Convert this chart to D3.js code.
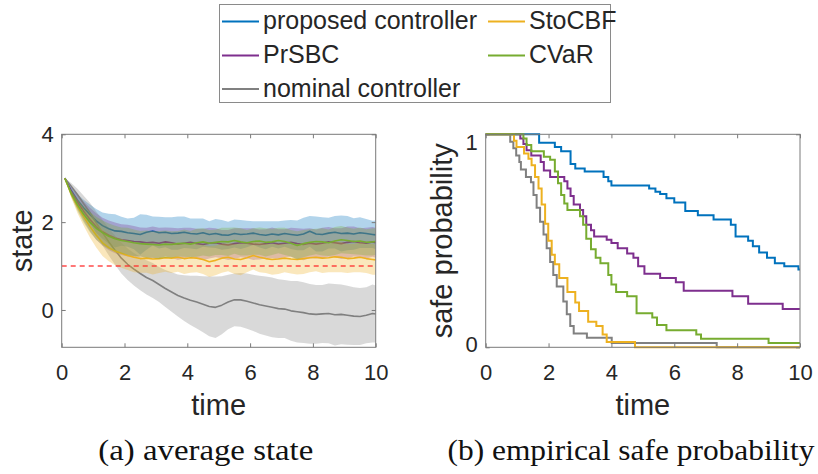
<!DOCTYPE html>
<html><head><meta charset="utf-8">
<script src="https://cdn.jsdelivr.net/npm/d3@7"></script>
<style>html,body{margin:0;padding:0;background:#fff;} svg{display:block;}</style>
</head><body>
<svg id="chart" width="818" height="474"></svg>
<script>
// ---------- data ----------
const seriesNames  = ["proposed controller", "PrSBC", "nominal controller", "StoCBF", "CVaR"];
const seriesColors = ["#0072BD", "#7E2F8E", "#808080", "#EDB120", "#77AC30"];

const timeGrid = [0.1,0.3,0.5,0.7,0.9,1.1,1.3,1.5,1.7,1.9,2.1,2.3,2.5,2.7,2.9,3.1,3.3,3.5,3.7,3.9,4.1,4.3,4.5,4.7,4.9,5.1,5.3,5.5,5.7,5.9,6.1,6.3,6.5,6.7,6.9,7.1,7.3,7.5,7.7,7.9,8.1,8.3,8.5,8.7,8.9,9.1,9.3,9.5,9.7,9.9,10.0];

const meanProposed = [3.00,2.72,2.50,2.32,2.17,2.03,1.92,1.85,1.80,1.79,1.76,1.74,1.72,1.77,1.80,1.76,1.77,1.74,1.75,1.77,1.74,1.73,1.76,1.72,1.74,1.71,1.70,1.74,1.72,1.73,1.75,1.72,1.70,1.73,1.71,1.74,1.72,1.70,1.73,1.79,1.73,1.72,1.75,1.77,1.74,1.75,1.73,1.76,1.74,1.72,1.71];
const sdProposed   = [0.00,0.08,0.14,0.19,0.23,0.27,0.30,0.34,0.38,0.33,0.32,0.36,0.46,0.40,0.33,0.36,0.34,0.37,0.38,0.36,0.34,0.35,0.32,0.30,0.33,0.34,0.31,0.32,0.33,0.30,0.27,0.30,0.32,0.29,0.31,0.30,0.33,0.34,0.37,0.35,0.40,0.39,0.35,0.37,0.41,0.39,0.36,0.35,0.33,0.31,0.33];

const meanPrSBC = [3.00,2.70,2.46,2.25,2.06,1.90,1.78,1.70,1.64,1.60,1.58,1.56,1.55,1.53,1.54,1.52,1.55,1.53,1.50,1.52,1.54,1.51,1.49,1.52,1.53,1.50,1.48,1.51,1.53,1.52,1.50,1.49,1.51,1.53,1.50,1.52,1.54,1.51,1.49,1.52,1.50,1.52,1.55,1.53,1.51,1.54,1.56,1.53,1.52,1.55,1.53];
const sdPrSBC   = [0.00,0.09,0.16,0.22,0.27,0.30,0.32,0.34,0.35,0.35,0.36,0.35,0.33,0.34,0.36,0.35,0.33,0.34,0.36,0.35,0.33,0.34,0.36,0.35,0.33,0.32,0.34,0.35,0.33,0.34,0.36,0.34,0.33,0.35,0.34,0.32,0.33,0.35,0.36,0.34,0.33,0.35,0.34,0.33,0.35,0.36,0.34,0.33,0.35,0.34,0.34];

const meanNominal = [3.00,2.82,2.63,2.42,2.22,1.98,1.76,1.55,1.36,1.18,1.04,0.93,0.83,0.74,0.67,0.58,0.49,0.41,0.33,0.27,0.22,0.18,0.13,0.08,0.06,0.11,0.18,0.23,0.23,0.20,0.16,0.12,0.09,0.06,0.03,0.02,-0.02,-0.04,-0.06,-0.09,-0.10,-0.09,-0.08,-0.11,-0.10,-0.12,-0.14,-0.15,-0.12,-0.08,-0.09];
const sdNominal   = [0.00,0.07,0.13,0.18,0.22,0.26,0.29,0.31,0.33,0.35,0.36,0.37,0.38,0.39,0.40,0.40,0.42,0.45,0.48,0.52,0.56,0.60,0.64,0.68,0.70,0.66,0.62,0.60,0.61,0.63,0.64,0.66,0.67,0.68,0.67,0.66,0.68,0.70,0.69,0.68,0.67,0.66,0.68,0.70,0.68,0.67,0.66,0.65,0.64,0.66,0.65];

const meanStoCBF = [3.00,2.64,2.36,2.12,1.90,1.70,1.53,1.42,1.34,1.29,1.24,1.20,1.17,1.18,1.16,1.17,1.19,1.18,1.20,1.17,1.19,1.18,1.15,1.10,1.13,1.18,1.20,1.16,1.15,1.19,1.24,1.20,1.17,1.15,1.16,1.18,1.16,1.15,1.17,1.19,1.20,1.18,1.19,1.21,1.20,1.17,1.18,1.20,1.17,1.15,1.14];
const sdStoCBF   = [0.00,0.08,0.15,0.20,0.25,0.28,0.30,0.31,0.32,0.33,0.33,0.34,0.32,0.33,0.35,0.33,0.32,0.34,0.33,0.35,0.34,0.32,0.33,0.35,0.34,0.33,0.32,0.34,0.36,0.33,0.32,0.34,0.33,0.35,0.34,0.32,0.33,0.34,0.35,0.33,0.32,0.34,0.33,0.35,0.34,0.33,0.32,0.34,0.33,0.35,0.34];

const meanCVaR = [3.00,2.66,2.40,2.18,2.00,1.86,1.76,1.68,1.62,1.58,1.56,1.53,1.51,1.50,1.49,1.48,1.50,1.49,1.51,1.52,1.50,1.53,1.55,1.52,1.54,1.56,1.55,1.58,1.55,1.53,1.56,1.57,1.54,1.55,1.58,1.56,1.52,1.47,1.51,1.54,1.56,1.55,1.53,1.57,1.60,1.58,1.56,1.57,1.54,1.55,1.56];
const sdCVaR   = [0.00,0.08,0.14,0.19,0.23,0.26,0.28,0.29,0.30,0.30,0.31,0.30,0.29,0.31,0.30,0.32,0.31,0.30,0.29,0.31,0.30,0.32,0.31,0.30,0.29,0.31,0.32,0.30,0.31,0.29,0.30,0.31,0.32,0.30,0.29,0.31,0.30,0.32,0.31,0.30,0.29,0.31,0.30,0.32,0.31,0.30,0.29,0.31,0.30,0.31,0.30];

// empirical safe probability: step changes (time, probability)
const probTimeProposed = [0,1.7,2.2,2.4,2.7,2.85,3.15,3.75,3.9,4.0,5.2,5.4,5.55,5.75,6.0,6.35,6.75,7.25,7.8,7.95,8.35,8.5,8.7,8.95,9.2,9.5,9.95];
const probProposed     = [1,0.96,0.94,0.92,0.86,0.84,0.825,0.80,0.78,0.76,0.745,0.73,0.72,0.70,0.68,0.64,0.62,0.60,0.575,0.52,0.50,0.475,0.445,0.42,0.395,0.38,0.365];
const probTimePrSBC = [0,1.1,1.2,1.3,1.45,1.75,1.85,2.05,2.5,2.6,2.7,2.8,3.0,3.1,3.2,3.35,3.45,3.85,4.0,4.2,4.5,4.7,4.85,5.05,5.55,6.05,6.3,7.85,8.35,9.45];
const probPrSBC     = [1,0.98,0.955,0.925,0.90,0.87,0.83,0.80,0.78,0.745,0.71,0.67,0.645,0.615,0.575,0.55,0.52,0.505,0.49,0.465,0.44,0.42,0.38,0.345,0.325,0.305,0.265,0.24,0.205,0.18];
const probTimeNominal = [0,0.78,0.88,0.97,1.07,1.12,1.28,1.44,1.52,1.62,1.73,1.84,1.94,2.05,2.15,2.26,2.47,2.58,2.69,2.8,3.22,4.01,7.35];
const probNominal     = [1,0.965,0.935,0.90,0.87,0.835,0.80,0.775,0.715,0.655,0.59,0.53,0.465,0.40,0.34,0.285,0.215,0.155,0.10,0.065,0.045,0.02,0];
const probTimeStoCBF = [0,0.9,0.98,1.22,1.36,1.46,1.57,1.68,1.78,1.89,1.99,2.1,2.2,2.34,2.6,2.85,2.97,3.26,3.52,3.72,3.85,4.75];
const probStoCBF     = [1,0.97,0.94,0.91,0.885,0.855,0.80,0.745,0.67,0.58,0.50,0.435,0.39,0.325,0.26,0.21,0.17,0.12,0.10,0.06,0.025,0];
const probTimeCVaR = [0,1.2,1.3,1.45,1.85,2.05,2.2,2.3,2.4,2.5,2.6,3.0,3.1,3.2,3.35,3.5,3.65,3.9,4.0,4.15,4.5,4.8,5.3,5.45,5.75,6.7,6.85,9.0];
const probCVaR     = [1,0.98,0.95,0.92,0.895,0.88,0.825,0.77,0.715,0.675,0.645,0.615,0.575,0.51,0.46,0.42,0.395,0.34,0.295,0.26,0.24,0.16,0.14,0.105,0.08,0.06,0.04,0.02];

const xTicks = [0,2,4,6,8,10];
const stateTicks = [0,2,4];
const probTicks = [0,1];
const stateDomain = [-0.85, 4];
const timeDomain = [0, 10];
const safeThreshold = 1;
const xLabel = "time", stateLabel = "state", probLabel = "safe probability";
const captionA = "(a) average state", captionB = "(b) empirical safe probability";

const meanSets = [meanProposed, meanPrSBC, meanNominal, meanStoCBF, meanCVaR];
const sdSets = [sdProposed, sdPrSBC, sdNominal, sdStoCBF, sdCVaR];
const probTimeSets = [probTimeProposed, probTimePrSBC, probTimeNominal, probTimeStoCBF, probTimeCVaR];
const probSets = [probProposed, probPrSBC, probNominal, probStoCBF, probCVaR];

// ---------- drawing ----------
const svg = d3.select("#chart");
const SANS = "'Liberation Sans', Arial, Helvetica, sans-serif";
const SERIF = "'Liberation Serif', 'Times New Roman', serif";
const AXC = "#7a7a7a", TXC = "#262626";
const pTop = 134.3, pBottom = 347.3;

const xA = d3.scaleLinear().domain(timeDomain).range([61.7, 375.7]);
const yA = d3.scaleLinear().domain(stateDomain).range([pBottom, pTop]);
const xB = d3.scaleLinear().domain(timeDomain).range([485.7, 800]);
const yB = d3.scaleLinear().domain([0, 1]).range([pBottom, pTop]);

function frame(x, y, yTicks, labelShift) {
  const g = svg.append("g");
  const [x0, x1] = x.range(), [y0, y1] = y.range();
  const ax = (sel, axis) => {
    sel.call(axis);
    sel.select(".domain").remove();
    sel.selectAll(".tick line").attr("stroke", AXC);
    sel.selectAll("text").attr("fill", TXC).style("font-family", SANS).style("font-size", "22px");
  };
  g.append("g").attr("transform", `translate(0,${y0})`)
    .call(s => ax(s, d3.axisBottom(x).tickValues(xTicks).tickFormat(d3.format("d")).tickSizeInner(-4).tickSizeOuter(0).tickPadding(17.5)));
  g.append("g").attr("transform", `translate(0,${y1})`)
    .call(s => ax(s, d3.axisTop(x).tickValues(xTicks).tickFormat("").tickSizeInner(-4).tickSizeOuter(0)));
  const yl = g.append("g").attr("transform", `translate(${x0},0)`)
    .call(s => ax(s, d3.axisLeft(y).tickValues(yTicks).tickFormat(d3.format("d")).tickSizeInner(-4).tickSizeOuter(0).tickPadding(8)));
  if (labelShift) yl.selectAll(".tick text").attr("y", d => labelShift(d));
  g.append("g").attr("transform", `translate(${x1},0)`)
    .call(s => ax(s, d3.axisRight(y).tickValues(yTicks).tickFormat("").tickSizeInner(-4).tickSizeOuter(0)));
  g.append("rect").attr("x", x0).attr("y", y1).attr("width", x1 - x0).attr("height", y0 - y1)
    .attr("fill", "none").attr("stroke", AXC).attr("stroke-width", 1);
  return g;
}

// clip for panel (a)
svg.append("defs").append("clipPath").attr("id", "clipA").append("rect")
  .attr("x", xA.range()[0]).attr("y", pTop).attr("width", xA.range()[1] - xA.range()[0]).attr("height", pBottom - pTop);

const plotA = svg.append("g").attr("clip-path", "url(#clipA)");
seriesNames.forEach((name, i) => {
  const pts = timeGrid.map((t, k) => ({t, m: meanSets[i][k], s: sdSets[i][k]}));
  plotA.append("path").datum(pts)
    .attr("d", d3.area().x(d => xA(d.t)).y0(d => yA(d.m - d.s)).y1(d => yA(d.m + d.s)))
    .attr("fill", seriesColors[i]).attr("fill-opacity", 0.3).attr("stroke", "none");
  plotA.append("path").datum(pts)
    .attr("d", d3.line().x(d => xA(d.t)).y(d => yA(d.m)))
    .attr("fill", "none").attr("stroke", seriesColors[i]).attr("stroke-width", 1.6).attr("stroke-linejoin", "round");
});
plotA.append("line")
  .attr("x1", xA(timeDomain[0])).attr("x2", xA(timeDomain[1]))
  .attr("y1", yA(safeThreshold)).attr("y2", yA(safeThreshold))
  .attr("stroke", "#ff2a2a").attr("stroke-opacity", 0.85).attr("stroke-width", 1.4).attr("stroke-dasharray", "5,4");

frame(xA, yA, stateTicks, null);

// panel (b)
const plotB = svg.append("g");
seriesNames.forEach((name, i) => {
  const ts = probTimeSets[i], ps = probSets[i];
  const pts = ts.map((t, k) => [t, ps[k]]);
  pts.push([timeDomain[1], ps[ps.length - 1]]);
  plotB.append("path").datum(pts)
    .attr("d", d3.line().x(d => xB(d[0])).y(d => yB(d[1])).curve(d3.curveStepAfter))
    .attr("fill", "none").attr("stroke", seriesColors[i]).attr("stroke-width", 2);
});
frame(xB, yB, probTicks, d => (d === 1 ? 8 : -3));

// axis labels
svg.append("text").attr("x", d3.mean(xA.range())).attr("y", 415).attr("text-anchor", "middle")
  .style("font-family", SANS).style("font-size", "29px").attr("fill", TXC).text(xLabel);
svg.append("text").attr("x", d3.mean(xB.range())).attr("y", 415).attr("text-anchor", "middle")
  .style("font-family", SANS).style("font-size", "29px").attr("fill", TXC).text(xLabel);
svg.append("text").attr("transform", `translate(31.5,${(pTop + pBottom) / 2}) rotate(-90)`).attr("text-anchor", "middle")
  .style("font-family", SANS).style("font-size", "29px").attr("fill", TXC).text(stateLabel);
svg.append("text").attr("transform", `translate(452,${(pTop + pBottom) / 2}) rotate(-90)`).attr("text-anchor", "middle")
  .style("font-family", SANS).style("font-size", "29px").attr("fill", TXC).text(probLabel);

// captions
svg.append("text").attr("x", 205.8).attr("y", 460).attr("text-anchor", "middle")
  .attr("textLength", 215).attr("lengthAdjust", "spacingAndGlyphs")
  .style("font-family", SERIF).style("font-size", "30px").attr("fill", "#111").text(captionA);
svg.append("text").attr("x", 631).attr("y", 460).attr("text-anchor", "middle")
  .attr("textLength", 367).attr("lengthAdjust", "spacingAndGlyphs")
  .style("font-family", SERIF).style("font-size", "30px").attr("fill", "#111").text(captionB);

// legend (column-first, 3 rows)
const leg = svg.append("g");
leg.append("rect").attr("x", 219.5).attr("y", 4.5).attr("width", 391).attr("height", 98)
  .attr("fill", "#fff").attr("stroke", "#8a8a8a").attr("stroke-width", 1);
const colX = [222, 488], rowY = [29, 63, 96.5];
seriesNames.forEach((name, i) => {
  const c = i < 3 ? 0 : 1, r = i < 3 ? i : i - 3;
  const lx = colX[c], by = rowY[r];
  leg.append("line").attr("x1", lx).attr("x2", lx + 37).attr("y1", by - 7.5).attr("y2", by - 7.5)
    .attr("stroke", seriesColors[i]).attr("stroke-width", 2);
  leg.append("text").attr("x", lx + 41).attr("y", by)
    .style("font-family", SANS).style("font-size", "25px").attr("fill", TXC).text(name);
});
</script>
</body></html>
